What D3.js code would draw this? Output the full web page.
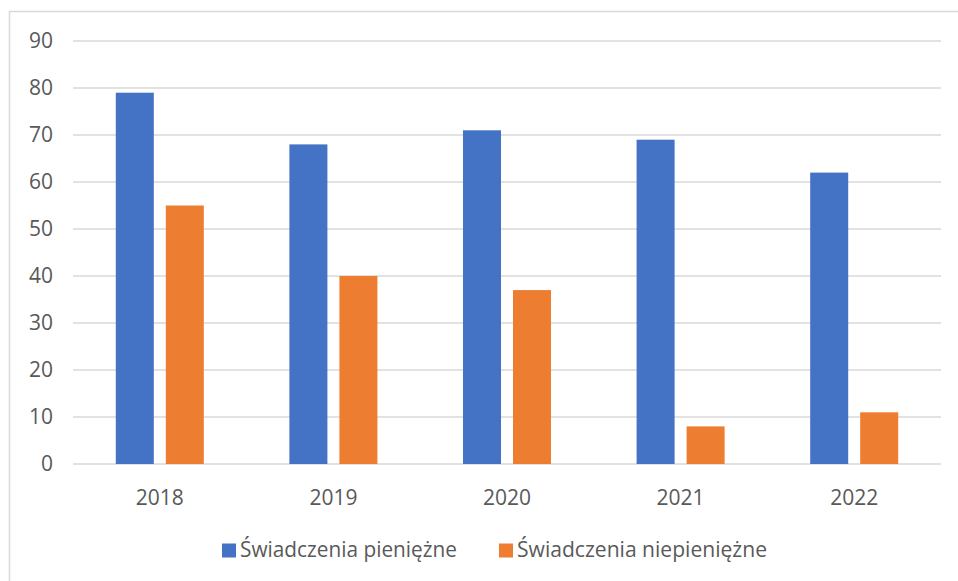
<!DOCTYPE html>
<html>
<head>
<meta charset="utf-8">
<script src="https://cdn.jsdelivr.net/npm/d3@7"></script>
<style>
  html, body { margin: 0; padding: 0; background: #fff; }
  svg { display: block; }
</style>
</head>
<body>
<div id="chart"></div>
<script>
const years = ['2018', '2019', '2020', '2021', '2022'];
const seriesNames = ['Świadczenia pieniężne', 'Świadczenia niepieniężne'];
const pieniezne = [79, 68, 71, 69, 62];
const niepieniezne = [55, 40, 37, 8, 11];
const yTicks = [0, 10, 20, 30, 40, 50, 60, 70, 80, 90];
const colors = ['#4472C4', '#ED7D31'];

const width = 958, height = 581;
const margin = { top: 41, right: 17, bottom: 117, left: 73 };

const svg = d3.select('#chart')
  .append('svg')
  .attr('width', width)
  .attr('height', height)
  .attr('font-family', '"Open Sans", "Noto Sans", sans-serif');

// outer frame
svg.append('rect')
  .attr('x', 9.5).attr('y', 11.5)
  .attr('width', width + 10).attr('height', height + 10)
  .attr('fill', 'none')
  .attr('stroke', '#d9d9d9')
  .attr('stroke-width', 1.5);

const x0 = d3.scaleBand()
  .domain(years)
  .range([margin.left, width - margin.right])
  .paddingInner(0.493)
  .paddingOuter(0.2465);

const x1 = d3.scaleBand()
  .domain(seriesNames)
  .range([0, x0.bandwidth()])
  .paddingInner(0.24);

const y = d3.scaleLinear()
  .domain([0, 90])
  .range([height - margin.bottom, margin.top]);

// grid lines
svg.append('g')
  .selectAll('line')
  .data(yTicks)
  .join('line')
  .attr('x1', margin.left)
  .attr('x2', width - margin.right)
  .attr('y1', d => y(d))
  .attr('y2', d => y(d))
  .attr('stroke', '#d9d9d9')
  .attr('stroke-width', 1.5);

// y tick labels
svg.append('g')
  .selectAll('text')
  .data(yTicks)
  .join('text')
  .attr('x', 53)
  .attr('y', d => y(d))
  .attr('dy', '0.35em')
  .attr('text-anchor', 'end')
  .attr('font-size', 21)
  .attr('fill', '#595959')
  .text(d => d);

const rows = years.map((yr, i) => ({ year: yr, values: [pieniezne[i], niepieniezne[i]] }));

const groups = svg.append('g')
  .selectAll('g')
  .data(rows)
  .join('g')
  .attr('transform', d => `translate(${x0(d.year)},0)`);

groups.selectAll('rect')
  .data(d => d.values.map((v, j) => ({ name: seriesNames[j], value: v, j })))
  .join('rect')
  .attr('x', d => x1(d.name))
  .attr('width', x1.bandwidth())
  .attr('y', d => y(d.value))
  .attr('height', d => y(0) - y(d.value))
  .attr('fill', d => colors[d.j]);

// x labels
svg.append('g')
  .selectAll('text')
  .data(years)
  .join('text')
  .attr('x', d => x0(d) + x0.bandwidth() / 2)
  .attr('y', 498)
  .attr('dy', '0.35em')
  .attr('text-anchor', 'middle')
  .attr('font-size', 21)
  .attr('fill', '#595959')
  .text(d => d);

// legend
const legendX = [222, 499];
const legendW = [217, 250];
const legend = svg.append('g')
  .selectAll('g')
  .data(seriesNames)
  .join('g')
  .attr('transform', (d, i) => `translate(${legendX[i]},550)`);

legend.append('rect')
  .attr('x', 0).attr('y', -6.5)
  .attr('width', 14).attr('height', 14)
  .attr('fill', (d, i) => colors[i]);

legend.append('text')
  .attr('x', 18)
  .attr('y', 0)
  .attr('dy', '0.35em')
  .attr('font-size', 21)
  .attr('fill', '#595959')
  .attr('textLength', (d, i) => legendW[i])
  .attr('lengthAdjust', 'spacingAndGlyphs')
  .text(d => d);
</script>
</body>
</html>
